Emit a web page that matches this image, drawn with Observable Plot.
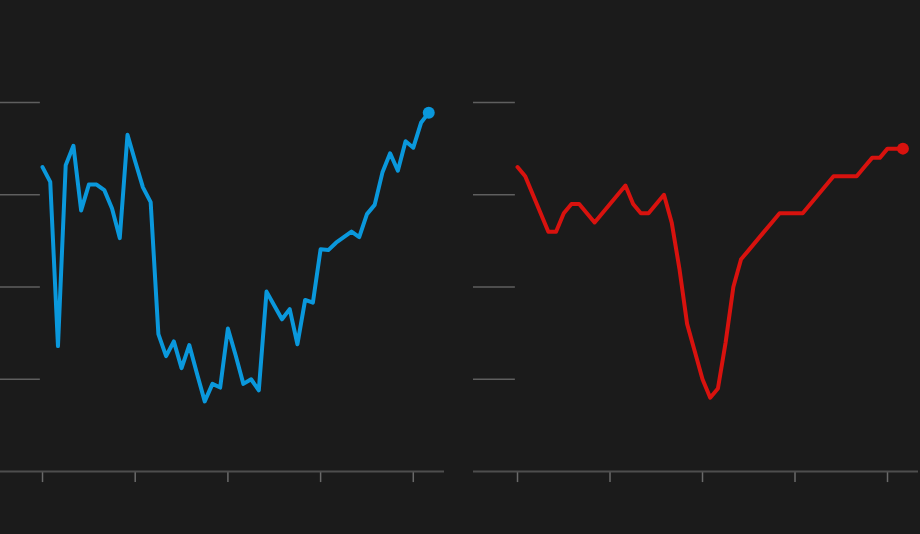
<!DOCTYPE html>
<html>
<head>
<meta charset="utf-8">
<script src="https://cdn.jsdelivr.net/npm/d3@7"></script>
<script src="https://cdn.jsdelivr.net/npm/@observablehq/plot@0.6"></script>
<style>
  html, body { margin: 0; padding: 0; background: #1b1b1b; }
  #wrap { position: relative; width: 920px; height: 534px; background: #1b1b1b; overflow: hidden; }
  #left, #right { position: absolute; top: 0; }
  #left { left: 0; }
  #right { left: 473px; }
  svg { display: block; }
</style>
</head>
<body>
<div id="wrap"><div id="left"></div><div id="right"></div></div>
<script>
// Monthly observations (index 0..50), yearly ticks every 12 months
const blueValues = [3.30, 3.14, 1.36, 3.32, 3.53, 2.83, 3.11, 3.11, 3.05, 2.85,
  2.53, 3.65, 3.36, 3.08, 2.92, 1.49, 1.25, 1.41, 1.12, 1.37,
  1.06, 0.76, 0.95, 0.91, 1.55, 1.26, 0.95, 1.00, 0.88, 1.95,
  1.80, 1.65, 1.76, 1.38, 1.86, 1.83, 2.41, 2.40, 2.48, 2.54,
  2.60, 2.54, 2.79, 2.89, 3.24, 3.45, 3.26, 3.58, 3.51, 3.78, 3.89];
const redValues = [3.3, 3.2, 3.0, 2.8, 2.6, 2.6, 2.8, 2.9, 2.9, 2.8,
  2.7, 2.8, 2.9, 3.0, 3.1, 2.9, 2.8, 2.8, 2.9, 3.0,
  2.7, 2.2, 1.6, 1.3, 1.0, 0.8, 0.9, 1.4, 2.0, 2.3,
  2.4, 2.5, 2.6, 2.7, 2.8, 2.8, 2.8, 2.8, 2.9, 3.0,
  3.1, 3.2, 3.2, 3.2, 3.2, 3.3, 3.4, 3.4, 3.5, 3.5, 3.5];
const xTicks = [0, 12, 24, 36, 48];
const gridValues = [1, 2, 3, 4];

const BG = "#1b1b1b";

function panel(values, color, width, marginRight, xDomain) {
  const data = values.map((v, i) => ({i, v}));
  const last = data[data.length - 1];
  return Plot.plot({
    width, height: 534,
    marginLeft: 0, marginRight, marginTop: 102, marginBottom: 63,
    style: {background: BG, overflow: "visible"},
    x: {domain: xDomain, axis: null},
    y: {domain: [0, 4], axis: null},
    marks: [
      Plot.ruleY(gridValues, {x1: xDomain[0], x2: -0.28, stroke: "#5f5f5f", strokeWidth: 1.3}),
      Plot.ruleX(xTicks, {y1: 0, y2: -0.12, stroke: "#6a6a6a", strokeWidth: 1.5}),
      Plot.ruleY([0], {stroke: "#4e4e4e", strokeWidth: 2}),
      Plot.line(data, {x: "i", y: "v", stroke: color, strokeWidth: 4, strokeLinejoin: "round", strokeLinecap: "round"}),
      Plot.dot([last], {x: "i", y: "v", r: 6, fill: color, stroke: "none"})
    ]
  });
}

document.getElementById("left").append(
  panel(blueValues, "#0a98dc", 444, 0, [-5.44, 52.04])
);
document.getElementById("right").append(
  panel(redValues, "#d8120e", 447, 2, [-5.71, 52.02])
);
</script>
</body>
</html>
